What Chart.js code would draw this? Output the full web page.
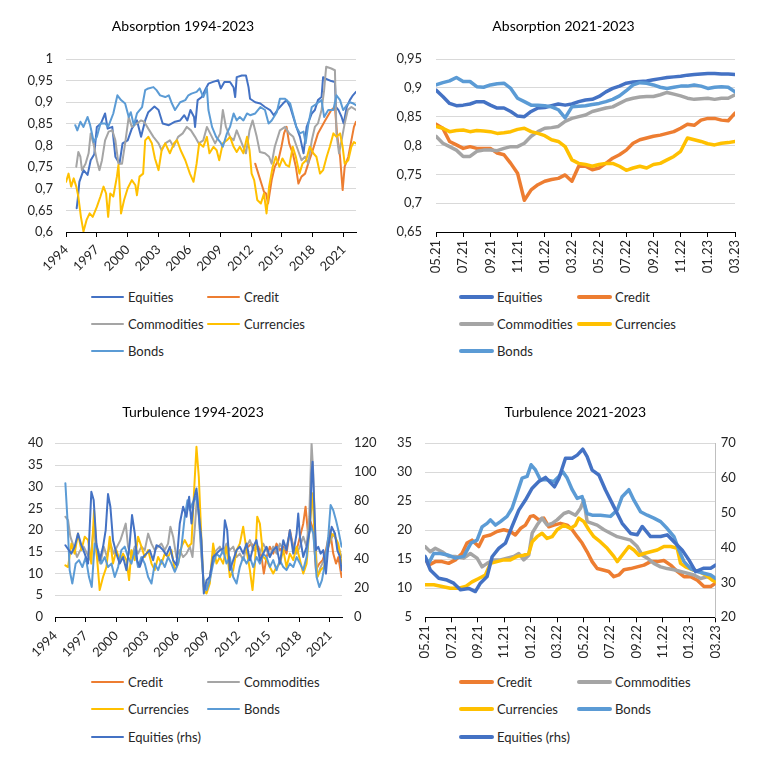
<!DOCTYPE html>
<html>
<head>
<meta charset="utf-8">
<title>Absorption and turbulence</title>
<script src="https://cdn.jsdelivr.net/npm/chart.js@4.4.1/dist/chart.umd.min.js"></script>
<style>
  body { margin: 0; background: #fff; font-family: Lato, "Open Sans", sans-serif; }
  #page { position: relative; width: 769px; height: 761px; overflow: hidden; }
  canvas { position: absolute; }
  .legend-item { position: absolute; display: flex; align-items: center; height: 18px;
                 font-size: 13px; color: #262626; white-space: nowrap; }
  .legend-item span { display: inline-block; border-radius: 2px; }
</style>
</head>
<body>
<div id="page">
  <canvas id="absLong" width="384" height="280" style="left:0;top:0"></canvas>
  <canvas id="absShort" width="385" height="280" style="left:384px;top:0"></canvas>
  <canvas id="turbLong" width="384" height="280" style="left:0;top:390px"></canvas>
  <canvas id="turbShort" width="385" height="280" style="left:384px;top:390px"></canvas>
</div>
<script>
// ---- Absorption 1994-2023, [year, ratio]
const absLongEquities = [[1995.04,0.655],[1995.15,0.678],[1995.3,0.716],[1995.7,0.743],[1996.1,0.732],[1996.4,0.766],[1996.75,0.78],[1997.0,0.843],[1997.4,0.851],[1997.8,0.874],[1998.05,0.839],[1998.5,0.843],[1998.8,0.774],[1999.2,0.758],[1999.5,0.805],[2000.0,0.812],[2000.4,0.839],[2000.9,0.858],[2001.3,0.82],[2001.7,0.858],[2002.0,0.877],[2002.6,0.89],[2003.0,0.882],[2003.4,0.851],[2004.0,0.847],[2004.6,0.855],[2005.1,0.858],[2005.5,0.87],[2005.8,0.858],[2006.1,0.882],[2006.45,0.866],[2006.55,0.843],[2006.8,0.905],[2007.2,0.912],[2007.6,0.932],[2007.85,0.943],[2008.3,0.947],[2008.8,0.951],[2009.05,0.932],[2009.4,0.947],[2009.95,0.947],[2010.3,0.934],[2010.45,0.912],[2010.6,0.958],[2011.1,0.962],[2011.5,0.962],[2011.75,0.935],[2011.9,0.908],[2012.4,0.9],[2012.9,0.897],[2013.35,0.889],[2013.85,0.882],[2014.2,0.87],[2014.65,0.885],[2015.1,0.897],[2015.45,0.905],[2015.8,0.889],[2016.1,0.866],[2016.4,0.843],[2016.75,0.82],[2017.1,0.782],[2017.4,0.843],[2017.9,0.874],[2018.2,0.882],[2018.5,0.905],[2018.85,0.912],[2019.0,0.958],[2019.2,0.955],[2019.8,0.949],[2020.15,0.947],[2020.25,0.889],[2020.5,0.882],[2020.8,0.866],[2021.0,0.851],[2021.3,0.889],[2021.6,0.905],[2021.9,0.916],[2022.2,0.924]];
const absLongCredit = [[2012.4,0.758],[2012.7,0.735],[2013.0,0.712],[2013.25,0.693],[2013.45,0.689],[2013.65,0.666],[2014.0,0.72],[2014.3,0.751],[2014.65,0.766],[2014.95,0.797],[2015.2,0.828],[2015.45,0.843],[2015.7,0.805],[2016.05,0.782],[2016.35,0.751],[2016.6,0.712],[2016.9,0.728],[2017.25,0.735],[2017.55,0.758],[2017.9,0.782],[2018.2,0.805],[2018.5,0.828],[2018.85,0.843],[2019.2,0.858],[2019.5,0.87],[2019.8,0.882],[2020.15,0.889],[2020.35,0.828],[2020.65,0.774],[2020.9,0.697],[2021.1,0.751],[2021.45,0.774],[2021.75,0.812],[2022.0,0.843],[2022.2,0.855]];
const absLongCommodities = [[1995.0,0.751],[1995.2,0.785],[1995.4,0.774],[1995.55,0.743],[1995.9,0.758],[1996.2,0.782],[1996.4,0.828],[1996.7,0.801],[1997.0,0.766],[1997.25,0.743],[1997.5,0.766],[1997.8,0.812],[1998.15,0.832],[1998.5,0.835],[1998.8,0.812],[1999.1,0.758],[1999.45,0.758],[1999.75,0.805],[2000.1,0.866],[2000.4,0.843],[2000.9,0.851],[2001.3,0.858],[2001.6,0.855],[2002.0,0.839],[2002.5,0.82],[2003.0,0.805],[2003.3,0.789],[2003.65,0.805],[2004.1,0.812],[2004.45,0.797],[2004.9,0.82],[2005.35,0.828],[2005.75,0.843],[2006.15,0.835],[2006.55,0.82],[2006.9,0.805],[2007.35,0.812],[2007.7,0.843],[2008.1,0.824],[2008.5,0.805],[2009.0,0.828],[2009.25,0.882],[2009.55,0.843],[2009.95,0.82],[2010.3,0.812],[2010.6,0.835],[2011.1,0.805],[2011.5,0.782],[2011.85,0.835],[2012.15,0.858],[2012.55,0.82],[2012.85,0.785],[2013.35,0.782],[2013.75,0.774],[2014.0,0.758],[2014.3,0.797],[2014.8,0.835],[2015.3,0.843],[2015.7,0.828],[2016.1,0.82],[2016.5,0.793],[2016.9,0.766],[2017.25,0.774],[2017.55,0.758],[2017.9,0.812],[2018.2,0.843],[2018.5,0.851],[2018.85,0.882],[2019.1,0.928],[2019.3,0.982],[2019.8,0.978],[2020.15,0.974],[2020.3,0.828],[2020.55,0.782],[2020.8,0.812],[2021.1,0.851],[2021.4,0.882],[2021.75,0.889],[2022.2,0.882]];
const absLongCurrencies = [[1994.0,0.716],[1994.25,0.735],[1994.5,0.705],[1994.75,0.724],[1995.0,0.705],[1995.2,0.682],[1995.45,0.635],[1995.7,0.601],[1996.0,0.628],[1996.3,0.643],[1996.6,0.635],[1997.0,0.658],[1997.35,0.682],[1997.65,0.705],[1997.9,0.689],[1998.1,0.635],[1998.3,0.689],[1998.6,0.682],[1998.95,0.728],[1999.1,0.755],[1999.35,0.643],[1999.65,0.674],[2000.0,0.701],[2000.4,0.72],[2000.75,0.708],[2000.9,0.685],[2001.15,0.728],[2001.5,0.735],[2001.7,0.812],[2002.0,0.82],[2002.35,0.805],[2002.65,0.77],[2003.0,0.743],[2003.3,0.789],[2003.65,0.805],[2004.1,0.782],[2004.5,0.805],[2004.8,0.812],[2005.15,0.789],[2005.6,0.766],[2006.05,0.735],[2006.4,0.716],[2006.7,0.758],[2006.95,0.805],[2007.35,0.797],[2007.7,0.82],[2007.95,0.782],[2008.35,0.797],[2008.65,0.789],[2008.9,0.766],[2009.25,0.805],[2009.65,0.812],[2009.95,0.82],[2010.3,0.797],[2010.6,0.785],[2010.9,0.797],[2011.25,0.782],[2011.6,0.82],[2011.85,0.789],[2012.05,0.735],[2012.3,0.72],[2012.6,0.674],[2012.95,0.666],[2013.25,0.689],[2013.5,0.643],[2013.75,0.705],[2014.1,0.751],[2014.4,0.774],[2014.75,0.751],[2015.05,0.77],[2015.4,0.755],[2015.7,0.751],[2016.05,0.797],[2016.35,0.774],[2016.7,0.735],[2017.0,0.758],[2017.35,0.766],[2017.7,0.797],[2018.05,0.782],[2018.35,0.774],[2018.7,0.735],[2019.0,0.743],[2019.35,0.774],[2019.65,0.797],[2020.0,0.828],[2020.3,0.82],[2020.65,0.828],[2020.9,0.797],[2021.1,0.758],[2021.45,0.766],[2021.75,0.797],[2022.0,0.808],[2022.2,0.805]];
const absLongBonds = [[1994.9,0.847],[1995.1,0.835],[1995.4,0.855],[1995.7,0.843],[1996.1,0.866],[1996.35,0.847],[1996.7,0.808],[1997.0,0.82],[1997.35,0.851],[1997.8,0.851],[1998.1,0.843],[1998.6,0.874],[1999.0,0.916],[1999.35,0.905],[1999.75,0.897],[2000.1,0.866],[2000.3,0.877],[2000.6,0.847],[2000.9,0.874],[2001.4,0.889],[2001.7,0.928],[2002.0,0.932],[2002.5,0.935],[2002.8,0.928],[2003.15,0.916],[2003.65,0.912],[2004.0,0.916],[2004.3,0.897],[2004.6,0.882],[2005.1,0.9],[2005.6,0.905],[2005.9,0.916],[2006.2,0.92],[2006.7,0.924],[2007.0,0.932],[2007.35,0.912],[2007.7,0.932],[2007.85,0.882],[2008.2,0.843],[2008.6,0.82],[2009.0,0.808],[2009.25,0.797],[2009.65,0.828],[2009.95,0.843],[2010.3,0.874],[2010.6,0.858],[2010.9,0.866],[2011.25,0.858],[2011.6,0.874],[2011.9,0.87],[2012.4,0.874],[2012.9,0.889],[2013.35,0.882],[2013.7,0.851],[2014.0,0.858],[2014.5,0.877],[2014.8,0.908],[2015.3,0.908],[2015.8,0.897],[2016.1,0.87],[2016.4,0.843],[2016.75,0.828],[2017.1,0.832],[2017.3,0.805],[2017.55,0.847],[2017.9,0.889],[2018.4,0.897],[2018.85,0.905],[2019.1,0.866],[2019.5,0.882],[2020.0,0.882],[2020.3,0.916],[2020.65,0.905],[2020.95,0.882],[2021.3,0.893],[2021.6,0.9],[2021.95,0.897],[2022.2,0.893]];

// ---- Absorption 2021-2023, months since 05.21 (half-month steps)
const absShortMonths = [0,0.5,1,1.5,2,2.5,3,3.5,4,4.5,5,5.5,6,6.5,7,7.5,8,8.5,9,9.5,10,10.5,11,11.5,12,12.5,13,13.5,14,14.5,15,15.5,16,16.5,17,17.5,18,18.5,19,19.5,20,20.5,21,21.5,22];
const absShortEquities = [0.896,0.885,0.873,0.869,0.87,0.872,0.876,0.876,0.87,0.865,0.865,0.859,0.851,0.85,0.859,0.865,0.866,0.869,0.872,0.87,0.872,0.876,0.879,0.88,0.885,0.893,0.899,0.903,0.908,0.91,0.911,0.912,0.914,0.916,0.918,0.919,0.92,0.922,0.923,0.924,0.925,0.925,0.924,0.924,0.923];
const absShortCredit = [0.837,0.83,0.807,0.801,0.795,0.798,0.795,0.795,0.795,0.787,0.784,0.769,0.752,0.705,0.723,0.732,0.738,0.741,0.743,0.749,0.738,0.764,0.764,0.758,0.761,0.769,0.778,0.784,0.792,0.804,0.81,0.813,0.816,0.818,0.821,0.824,0.83,0.837,0.835,0.844,0.847,0.847,0.844,0.843,0.856];
const absShortCommodities = [0.816,0.804,0.798,0.792,0.781,0.781,0.79,0.792,0.792,0.791,0.795,0.798,0.798,0.804,0.816,0.824,0.83,0.831,0.833,0.842,0.847,0.85,0.853,0.859,0.862,0.865,0.867,0.873,0.879,0.882,0.884,0.885,0.885,0.888,0.892,0.889,0.886,0.882,0.88,0.881,0.882,0.88,0.882,0.882,0.888];
const absShortCurrencies = [0.833,0.83,0.824,0.826,0.827,0.824,0.826,0.825,0.824,0.821,0.822,0.824,0.828,0.83,0.824,0.821,0.817,0.81,0.807,0.798,0.775,0.769,0.767,0.764,0.767,0.769,0.769,0.764,0.757,0.761,0.764,0.761,0.767,0.769,0.775,0.781,0.79,0.813,0.81,0.807,0.803,0.801,0.804,0.805,0.807];
const absShortBonds = [0.905,0.909,0.912,0.918,0.911,0.911,0.902,0.901,0.905,0.907,0.908,0.899,0.882,0.876,0.87,0.87,0.869,0.867,0.862,0.848,0.867,0.868,0.869,0.871,0.873,0.876,0.88,0.886,0.895,0.905,0.909,0.908,0.905,0.901,0.899,0.901,0.903,0.903,0.905,0.903,0.899,0.901,0.902,0.901,0.893];

// ---- Turbulence 1994-2023, [year, value]; equities on the right axis
const turbLongCredit = [[2012.98,16.2],[2013.31,16.9],[2013.64,15.4],[2013.97,16.2],[2014.3,13.8],[2014.52,10],[2014.79,13.8],[2015.11,16.2],[2015.44,14.6],[2015.77,16.9],[2016.1,15.4],[2016.43,16.2],[2016.75,14.6],[2017.08,20],[2017.41,16.2],[2017.74,15.4],[2018.07,18.5],[2018.39,21.5],[2018.62,25.4],[2018.89,18.5],[2019.11,22],[2019.38,20],[2019.64,10.8],[2019.97,12.3],[2020.3,13.1],[2020.62,15.4],[2021.02,20],[2021.34,14.6],[2021.61,12.3],[2021.84,13.8],[2022.16,9.2]];
const turbLongCommodities = [[1995.02,23.1],[1995.28,22.3],[1995.51,18.5],[1995.84,16.2],[1996.16,13.8],[1996.49,15.4],[1996.82,16.2],[1997.15,14.6],[1997.48,13.1],[1997.8,20.8],[1998.13,13.8],[1998.46,12.3],[1998.79,16.2],[1999.11,13.8],[1999.44,16.9],[1999.77,14.6],[2000.1,16.2],[2000.43,17.7],[2000.75,20],[2000.95,21.5],[2001.18,16.2],[2001.51,13.8],[2001.84,16.2],[2002.16,14.6],[2002.49,16.2],[2002.82,15.4],[2003.15,19.2],[2003.48,16.9],[2003.8,15.4],[2004.13,16.2],[2004.46,16.9],[2004.79,15.4],[2005.11,16.9],[2005.34,20.8],[2005.61,18.5],[2005.93,13.8],[2006.26,15.4],[2006.59,13.8],[2006.92,14.6],[2007.25,16.2],[2007.51,13.8],[2007.77,21.5],[2007.97,28.5],[2008.16,22.3],[2008.39,13.8],[2008.62,7.7],[2008.89,6.9],[2009.21,9.2],[2009.54,14.6],[2009.87,15.4],[2010.2,16.2],[2010.52,14.6],[2010.85,16.9],[2011.18,15.4],[2011.51,16.2],[2011.84,13.8],[2012.16,14.6],[2012.49,13.1],[2012.82,16.2],[2013.15,17.7],[2013.48,15.4],[2013.8,16.2],[2014.13,14.6],[2014.46,16.9],[2014.79,15.4],[2015.11,13.8],[2015.44,16.2],[2015.77,14.6],[2016.1,16.9],[2016.43,15.4],[2016.75,16.2],[2017.08,19.2],[2017.41,16.2],[2017.74,14.6],[2018.07,16.2],[2018.39,18.5],[2018.72,16.2],[2018.98,23.1],[2019.21,40],[2019.38,33.1],[2019.57,18.5],[2019.77,9.2],[2020.1,11.5],[2020.43,13.1],[2020.75,15.4],[2021.08,17.7],[2021.41,19.2],[2021.74,16.9],[2022.16,13.8]];
const turbLongCurrencies = [[1995.02,11.9],[1995.28,11.5],[1995.61,16.9],[1995.93,14.6],[1996.26,19.2],[1996.59,15.4],[1996.92,18.5],[1997.25,17.7],[1997.57,12.3],[1997.84,24.6],[1998.07,15.4],[1998.39,6.2],[1998.72,9.2],[1999.05,11.5],[1999.38,18.5],[1999.7,12.3],[2000.03,15.4],[2000.36,13.1],[2000.69,14.6],[2001.02,13.1],[2001.28,8.5],[2001.51,15.4],[2001.84,13.1],[2002.16,18.5],[2002.49,16.2],[2002.82,13.8],[2003.15,15.4],[2003.48,12.3],[2003.8,10.8],[2004.13,13.8],[2004.46,12.3],[2004.79,14.6],[2005.11,13.8],[2005.44,15.4],[2005.77,10.8],[2006.1,12.3],[2006.43,16.2],[2006.75,17.7],[2007.08,16.2],[2007.41,16.9],[2007.67,29.2],[2007.9,39.2],[2008.13,32.3],[2008.39,17.7],[2008.62,6.2],[2008.89,5.4],[2009.21,7.7],[2009.54,16.9],[2009.87,12.3],[2010.2,13.8],[2010.52,12.3],[2010.85,16.2],[2011.18,9.2],[2011.51,10.8],[2011.84,15.4],[2012.16,16.9],[2012.49,20.8],[2012.82,15.4],[2013.15,10.8],[2013.41,6.2],[2013.64,12.3],[2013.87,23.1],[2014.13,21.5],[2014.46,13.8],[2014.79,13.1],[2015.11,11.5],[2015.44,10],[2015.77,11.5],[2016.1,12.3],[2016.43,15.4],[2016.75,11.5],[2017.08,14.6],[2017.41,13.1],[2017.74,16.2],[2018.07,13.1],[2018.39,10],[2018.72,12.3],[2019.05,21.5],[2019.31,28.5],[2019.54,16.9],[2019.77,9.2],[2020.1,10.8],[2020.43,11.5],[2020.85,16.2],[2021.18,19.2],[2021.51,18.5],[2021.84,16.9],[2022.16,12.3]];
const turbLongBonds = [[1995.02,30.8],[1995.21,23.1],[1995.44,10.8],[1995.7,7.7],[1996.03,12.3],[1996.36,13.1],[1996.69,11.5],[1997.02,13.8],[1997.34,9.2],[1997.61,6.9],[1997.9,16.9],[1998.23,15.4],[1998.56,12.3],[1998.89,13.8],[1999.21,11.5],[1999.54,12.3],[1999.87,9.2],[2000.2,11.5],[2000.52,15.4],[2000.85,16.2],[2001.18,13.8],[2001.51,12.3],[2001.84,15.4],[2002.16,11.5],[2002.49,13.8],[2002.82,12.3],[2003.15,9.2],[2003.48,7.7],[2003.8,12.3],[2004.13,10.8],[2004.46,13.1],[2004.79,11.5],[2005.11,13.8],[2005.44,12.3],[2005.77,10.4],[2006.1,12.3],[2006.43,16.2],[2006.75,23.1],[2007.02,26.9],[2007.25,24.6],[2007.51,26.2],[2007.84,27.7],[2008.1,24.6],[2008.39,15.4],[2008.62,6.9],[2008.89,6.2],[2009.21,8.5],[2009.54,12.3],[2009.87,14.6],[2010.2,13.8],[2010.52,15.4],[2010.85,12.3],[2011.18,13.8],[2011.51,9.2],[2011.84,7.7],[2012.16,11.5],[2012.49,13.8],[2012.82,12.3],[2013.15,13.8],[2013.48,11.5],[2013.8,13.8],[2014.13,12.3],[2014.46,14.6],[2014.79,13.8],[2015.11,11.5],[2015.44,13.1],[2015.77,10.8],[2016.1,13.1],[2016.43,11.5],[2016.75,10.8],[2017.08,12.3],[2017.41,11.5],[2017.74,13.8],[2018.07,12.3],[2018.39,10.8],[2018.72,13.8],[2019.05,21.5],[2019.38,19.2],[2019.7,9.2],[2019.97,6.9],[2020.23,8.5],[2020.52,12.3],[2020.85,18.5],[2021.08,25.8],[2021.34,24.6],[2021.61,22.3],[2021.84,20],[2022.16,16.2]];
const turbLongEquities = [[1995.02,49.6],[1995.28,47],[1995.61,43.8],[1995.93,48.5],[1996.26,57.7],[1996.59,49.6],[1996.92,43.8],[1997.25,36.9],[1997.57,86.5],[1997.8,80.8],[1998.07,50.8],[1998.39,39.2],[1998.72,48.5],[1998.98,60],[1999.21,84.9],[1999.44,76.2],[1999.7,53.1],[2000.03,43.8],[2000.36,36.9],[2000.69,41.5],[2001.02,32.3],[2001.34,50.8],[2001.57,70.4],[2001.84,57.7],[2002.07,39.2],[2002.33,34.6],[2002.66,41.5],[2002.98,43.8],[2003.31,46.2],[2003.64,39.2],[2003.97,49.6],[2004.3,48.5],[2004.62,46.2],[2004.95,42.7],[2005.28,48.5],[2005.61,39.2],[2005.93,35.8],[2006.26,64.6],[2006.59,76.2],[2006.92,69.2],[2007.18,83.1],[2007.41,64.6],[2007.64,80.8],[2007.9,88.8],[2008.16,69.2],[2008.39,53.1],[2008.62,16.2],[2008.89,25.4],[2009.21,27.7],[2009.54,41.5],[2009.87,43.8],[2010.2,46.2],[2010.52,47.3],[2010.69,66.9],[2010.92,60],[2011.18,32.3],[2011.51,39.2],[2011.84,46.2],[2012.16,48.5],[2012.49,43.8],[2012.82,50.8],[2013.15,39.2],[2013.48,48.5],[2013.8,53.1],[2014.13,39.2],[2014.46,43.8],[2014.79,48.5],[2015.11,41.5],[2015.44,46.2],[2015.77,48.5],[2016.1,36.9],[2016.43,53.1],[2016.75,46.2],[2017.08,60],[2017.41,43.8],[2017.74,57.7],[2017.9,71.5],[2018.07,55.4],[2018.39,41.5],[2018.72,48.5],[2019.05,60],[2019.21,99.2],[2019.31,107.3],[2019.44,83.1],[2019.64,46.2],[2019.87,48.5],[2020.1,43.8],[2020.36,46.2],[2020.62,30],[2020.85,48.5],[2021.18,62.3],[2021.51,57.7],[2021.74,46.2],[2022.0,41.5],[2022.16,32.3]];

// ---- Turbulence 2021-2023, [months since 05.21, value]; equities on the right axis
const turbShortCredit = [[0,15.2],[0.28,14],[0.78,14.6],[1.29,14.6],[1.79,14.3],[2.3,14.9],[2.8,16],[3.18,17.8],[3.56,18.3],[4.07,17.2],[4.44,18.9],[4.95,19.2],[5.45,19.8],[5.96,20.1],[6.46,19.8],[6.84,19.2],[7.22,20.3],[7.6,20.9],[7.98,22.4],[8.23,22.5],[8.61,21.8],[8.99,22.1],[9.37,20.6],[9.75,20.9],[10.25,21.2],[10.76,20.9],[11.14,20.1],[11.52,18.9],[11.89,17.8],[12.27,16.3],[12.65,14.6],[13.03,13.4],[13.41,13.2],[13.91,12.9],[14.29,12],[14.67,12.3],[15.05,13.2],[15.56,13.4],[16.06,13.7],[16.57,14],[17.07,14.6],[17.58,14.6],[18.08,14.8],[18.59,14],[19.09,12.9],[19.6,12],[20.1,12],[20.61,11.4],[21.11,10.3],[21.62,10.3],[22,10.9]];
const turbShortCommodities = [[0,17.2],[0.4,16.3],[0.78,16.9],[1.29,16.3],[1.79,15.5],[2.3,15.5],[2.93,15.2],[3.43,16],[3.94,15.2],[4.32,13.7],[4.7,14.3],[5.2,14.9],[5.71,14.9],[6.21,15.2],[6.72,15.5],[7.1,16],[7.47,14.9],[7.85,15.7],[8.11,19.5],[8.48,20.9],[8.86,22.1],[9.24,20.9],[9.62,21.2],[10,21.8],[10.51,22.9],[10.88,23.2],[11.39,22.6],[11.77,23.8],[12.02,25.2],[12.27,21.5],[12.65,21.2],[13.03,20.9],[13.54,20.1],[14.04,19.5],[14.55,18.9],[15.05,18.6],[15.56,18.3],[16.06,17.2],[16.44,15.7],[16.82,15.2],[17.32,14.3],[17.83,13.7],[18.33,13.4],[18.84,13.2],[19.34,12.9],[19.85,12.6],[20.35,12.3],[20.86,11.7],[21.36,12],[22,11.4]];
const turbShortCurrencies = [[0,10.6],[0.66,10.6],[1.29,10.3],[1.92,10],[2.55,10],[3.06,10.3],[3.56,11.1],[4.07,11.7],[4.57,12.3],[4.95,14.3],[5.45,14.6],[5.96,14.9],[6.46,14.9],[6.97,15.5],[7.47,15.7],[7.85,16],[8.11,18],[8.48,18.9],[8.86,19.5],[9.24,18.6],[9.62,18.9],[10,20.1],[10.51,20.9],[11.01,20.3],[11.39,20.9],[11.64,22.1],[12.02,21.5],[12.4,20.1],[12.78,18.9],[13.28,18],[13.79,16.9],[14.29,15.5],[14.55,14.6],[14.92,15.7],[15.43,17.2],[15.81,16.6],[16.19,15.7],[16.57,16],[17.07,16.3],[17.58,16.6],[18.08,17.2],[18.59,17.2],[19.09,16.9],[19.34,14.3],[19.72,13.7],[20.23,13.2],[20.73,12.9],[21.24,12.3],[21.74,11.4],[22,11.1]];
const turbShortBonds = [[0,15.5],[0.28,14.3],[0.66,16],[1.16,16],[1.79,15.7],[2.3,15.2],[2.93,15.5],[3.48,17.8],[3.94,18.3],[4.32,20.6],[4.7,21.2],[4.95,21.8],[5.33,20.9],[5.71,21.5],[6.21,22.4],[6.59,23.8],[6.97,26.4],[7.35,29],[7.73,29.3],[8.03,31.3],[8.36,30.4],[8.74,28.7],[9.24,28.7],[9.75,28.4],[10.13,29.3],[10.43,30.1],[10.76,29],[11.14,27],[11.52,25.5],[11.89,25.8],[12.27,22.9],[12.65,22.6],[13.28,22.6],[14.04,22.4],[14.55,23.5],[14.92,25.8],[15.43,27],[15.81,25.2],[16.31,23.2],[16.82,22.6],[17.32,22.1],[17.83,21.5],[18.33,20.3],[18.84,18.9],[19.22,16.6],[19.6,14.6],[20.1,13.4],[20.61,12.9],[21.11,12.6],[21.62,12.3],[22,11.7]];
const turbShortEquities = [[0,37.4],[0.4,33.6],[1.04,31.2],[1.67,30.7],[2.17,29.8],[2.68,27.9],[3.31,28.3],[3.81,27.4],[4.19,29.8],[4.7,31.7],[5.08,37.4],[5.58,39.8],[6.09,41.3],[6.59,46.1],[7.1,50.8],[7.6,53.7],[8.11,57.1],[8.61,59],[9.12,60.2],[9.49,58.7],[9.8,57.5],[10.13,59.9],[10.63,65.7],[11.14,65.7],[11.52,66.6],[11.94,68.3],[12.27,66.2],[12.65,62.3],[13.16,60.9],[13.66,56.6],[14.29,51.8],[14.92,47],[15.56,44.1],[16.06,43.7],[16.44,46.1],[17.07,43.2],[17.83,43.2],[18.33,43.7],[18.84,41.7],[19.47,39.3],[19.97,36.5],[20.48,33.1],[21.11,34.1],[21.62,34.1],[22,35]];

// ---- axis ticks and series names
const longYearTicks = [1994,1997,2000,2003,2006,2009,2012,2015,2018,2021];
const shortMonthTicks = [0,2,4,6,8,10,12,14,16,18,20,22];
const shortMonthLabels = ['05.21','07.21','09.21','11.21','01.22','03.22','05.22','07.22','09.22','11.22','01.23','03.23'];
const absNames = ['Equities','Credit','Commodities','Currencies','Bonds'];
const turbNames = ['Credit','Commodities','Currencies','Bonds','Equities (rhs)'];

const COLORS = {
    'Equities': '#4472C4', 'Equities (rhs)': '#4472C4', 'Credit': '#ED7D31',
    'Commodities': '#A5A5A5', 'Currencies': '#FFC000', 'Bonds': '#5B9BD5'
};

Chart.defaults.font.family = 'Lato, "Open Sans", sans-serif';
Chart.defaults.color = '#262626';
Chart.defaults.animation = false;

// comma as decimal separator, like the source
function fmtDec(v) {
    return String(Number(v.toFixed(2))).replace('.', ',');
}

function makeDatasets(names, series, width, rightAxisName) {
    return names.map((name, i) => ({
        label: name,
        data: series[i],
        borderColor: COLORS[name],
        backgroundColor: COLORS[name],
        borderWidth: width,
        borderJoinStyle: 'round',
        borderCapStyle: 'round',
        pointRadius: 0,
        fill: false,
        tension: 0,
        order: names.length - i,          // later series drawn on top
        yAxisID: name === rightAxisName ? 'y1' : 'y'
    }));
}

function xScale(opts) {
    return {
        type: 'linear',
        min: opts.min,
        max: opts.max,
        afterFit: s => { s.height = opts.height; },
        afterBuildTicks: s => { s.ticks = opts.ticks.map(v => ({ value: v })); },
        grid: { drawOnChartArea: false, drawTicks: true, tickLength: 5, color: '#000' },
        border: { display: true, color: '#000' },
        ticks: {
            autoSkip: false,
            minRotation: opts.rotation,
            maxRotation: opts.rotation,
            padding: opts.padding,
            font: { size: 13 },
            callback: opts.label
        }
    };
}

function yScale(opts) {
    return {
        position: opts.position || 'left',
        min: opts.min,
        max: opts.max,
        afterFit: s => { s.width = opts.width; },
        afterBuildTicks: s => { s.ticks = opts.ticks.map(v => ({ value: v })); },
        grid: {
            drawOnChartArea: opts.grid !== false,
            drawTicks: false,
            color: ctx => (ctx.tick && ctx.tick.value === opts.min) ? 'rgba(0,0,0,0)' : '#D9D9D9'
        },
        border: { display: !!opts.border, color: opts.border || '#000' },
        ticks: { padding: opts.padding, font: { size: 13 }, callback: opts.label || (v => String(v)) }
    };
}

function steps(from, to, step) {
    const out = [];
    for (let v = from; v <= to + 1e-9; v += step) out.push(Math.round(v * 100) / 100);
    return out;
}

function makeChart(id, cfg) {
    return new Chart(document.getElementById(id), {
        type: 'line',
        data: { datasets: cfg.datasets },
        options: {
            responsive: false,
            layout: { padding: cfg.padding },
            plugins: {
                legend: { display: false },
                tooltip: { enabled: false },
                title: {
                    display: true,
                    text: cfg.title,
                    color: '#000',
                    font: { size: 14, weight: 'normal' },
                    padding: cfg.titlePadding
                }
            },
            scales: cfg.scales
        }
    });
}

// HTML legend in two columns, as in the source
function drawLegend(chart, box) {
    const page = document.getElementById('page');
    chart.data.datasets.forEach((ds, i) => {
        const item = document.createElement('div');
        item.className = 'legend-item';
        item.style.left = box.cols[i % 2] + 'px';
        item.style.top = (box.rows[Math.floor(i / 2)] - 9) + 'px';
        const line = document.createElement('span');
        line.style.width = box.len + 'px';
        line.style.height = box.thick + 'px';
        line.style.background = ds.borderColor;
        line.style.marginRight = box.gap + 'px';
        item.appendChild(line);
        item.appendChild(document.createTextNode(ds.label));
        page.appendChild(item);
    });
}

const yearLabel = v => String(v);
const monthLabel = v => shortMonthLabels[shortMonthTicks.indexOf(v)] || '';

// top left
const absLongChart = makeChart('absLong', {
    title: 'Absorption 1994-2023',
    titlePadding: { top: 18, bottom: 24.2 },
    padding: { left: 10, right: 28, top: 0, bottom: 0 },
    datasets: makeDatasets(absNames,
        [absLongEquities, absLongCredit, absLongCommodities, absLongCurrencies, absLongBonds], 2),
    scales: {
        x: xScale({ min: 1994, max: 2022.2, ticks: longYearTicks, rotation: 45, height: 48, padding: 5, label: yearLabel }),
        y: yScale({ min: 0.6, max: 1, ticks: steps(0.6, 1, 0.05), width: 56, padding: 13, label: fmtDec })
    }
});
drawLegend(absLongChart, { cols: [91, 207], rows: [297, 324, 351], len: 33, thick: 2, gap: 4 });

// top right
const toXY = vals => vals.map((v, k) => [absShortMonths[k], v]);
const absShortChart = makeChart('absShort', {
    title: 'Absorption 2021-2023',
    titlePadding: { top: 18, bottom: 24.2 },
    padding: { left: 8, right: 34, top: 0, bottom: 0 },
    datasets: makeDatasets(absNames,
        [absShortEquities, absShortCredit, absShortCommodities, absShortCurrencies, absShortBonds].map(toXY), 3.5),
    scales: {
        x: xScale({ min: 0, max: 22, ticks: shortMonthTicks, rotation: 90, height: 48, padding: 3, label: monthLabel }),
        y: yScale({ min: 0.65, max: 0.95, ticks: steps(0.65, 0.95, 0.05), width: 44, padding: 14, label: fmtDec })
    }
});
drawLegend(absShortChart, { cols: [459, 577], rows: [297, 324, 351], len: 35, thick: 4, gap: 3 });

// bottom left
const turbLongChart = makeChart('turbLong', {
    title: 'Turbulence 1994-2023',
    titlePadding: { top: 14.3, bottom: 22.2 },
    padding: { left: 8, right: 6, top: 0, bottom: 0 },
    datasets: makeDatasets(turbNames,
        [turbLongCredit, turbLongCommodities, turbLongCurrencies, turbLongBonds, turbLongEquities], 2, 'Equities (rhs)'),
    scales: {
        x: xScale({ min: 1994, max: 2022.2, ticks: longYearTicks, rotation: 45, height: 53, padding: 6, label: yearLabel }),
        y: yScale({ min: 0, max: 40, ticks: steps(0, 40, 5), width: 47, padding: 12 }),
        y1: yScale({ position: 'right', min: 0, max: 120, ticks: steps(0, 120, 20), width: 36, padding: 12, grid: false })
    }
});
drawLegend(turbLongChart, { cols: [91, 207], rows: [682, 709, 737], len: 33, thick: 2, gap: 4 });

// bottom right
const turbShortChart = makeChart('turbShort', {
    title: 'Turbulence 2021-2023',
    titlePadding: { top: 14.3, bottom: 22.2 },
    padding: { left: 6, right: 8.3, top: 0, bottom: 0 },
    datasets: makeDatasets(turbNames,
        [turbShortCredit, turbShortCommodities, turbShortCurrencies, turbShortBonds, turbShortEquities], 3.5, 'Equities (rhs)'),
    scales: {
        x: xScale({ min: 0, max: 22, ticks: shortMonthTicks, rotation: 90, height: 52.7, padding: 3, label: monthLabel }),
        y: yScale({ min: 5, max: 35, ticks: steps(5, 35, 5), width: 35, padding: 13 }),
        y1: yScale({ position: 'right', min: 20, max: 70, ticks: steps(20, 70, 5), width: 45, padding: 5, grid: false, border: '#BFBFBF' })
    }
});
drawLegend(turbShortChart, { cols: [459, 577], rows: [682, 709, 737], len: 35, thick: 4, gap: 3 });
</script>
</body>
</html>
